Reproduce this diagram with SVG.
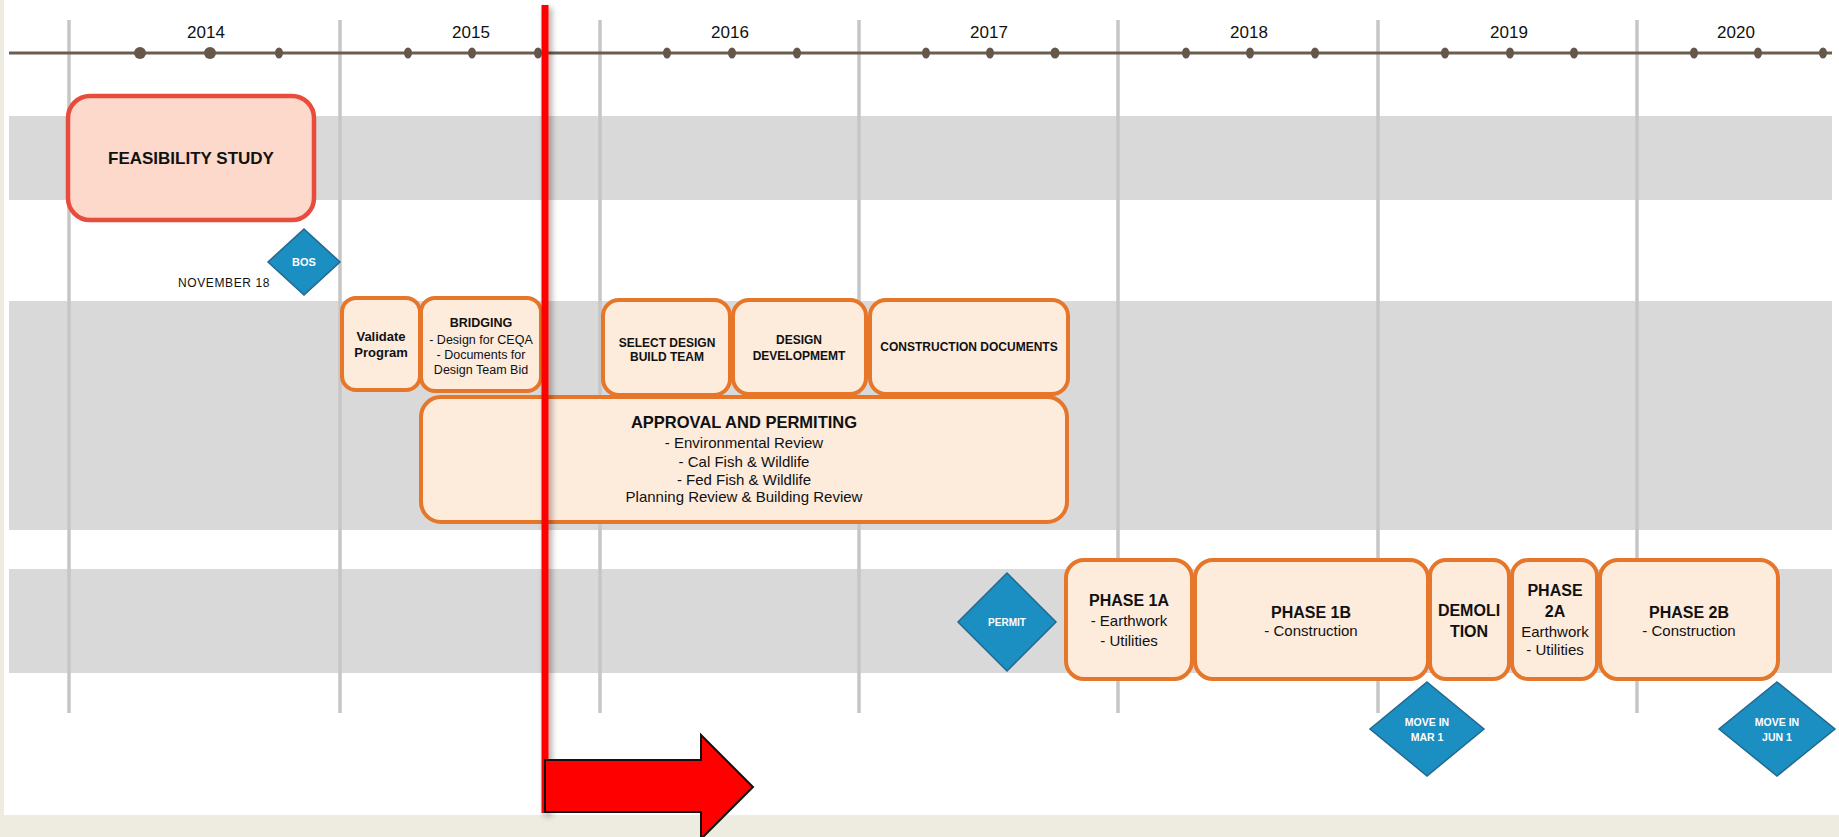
<svg xmlns="http://www.w3.org/2000/svg" width="1839" height="837" viewBox="0 0 1839 837">
<defs>
<style>
.t{font-family:"Liberation Sans",Arial,sans-serif;fill:#111;text-anchor:middle}
.b{font-weight:bold}
.yr{font-size:17px}
.band{fill:#d9d9d9}
.yl{stroke:#c6c6c6;stroke-width:3.5}
.dot{fill:#65574a}
.ob{fill:#fdebdc;stroke:#e5762a;stroke-width:4}
.dia{fill:#1b8ec2;stroke:#24688f;stroke-width:1.5}
.dt{font-family:"Liberation Sans",Arial,sans-serif;fill:#fff;font-weight:bold;text-anchor:middle}
</style>
<filter id="sh" x="-50%" y="-5%" width="300%" height="110%">
<feDropShadow dx="3" dy="3" stdDeviation="3" flood-color="#000" flood-opacity="0.35"/>
</filter>
</defs>
<rect x="0" y="0" width="1839" height="837" fill="#eeebe0"/>
<rect x="4" y="0" width="1835" height="815" fill="#ffffff"/>
<g id="bands">
<rect class="band" x="9" y="116" width="1823" height="84"/>
<rect class="band" x="9" y="301" width="1823" height="229"/>
<rect class="band" x="9" y="569" width="1823" height="104"/>
</g>
<g id="year-lines">
<line class="yl" x1="69" y1="20" x2="69" y2="713"/>
<line class="yl" x1="340" y1="20" x2="340" y2="713"/>
<line class="yl" x1="600" y1="20" x2="600" y2="713"/>
<line class="yl" x1="859" y1="20" x2="859" y2="713"/>
<line class="yl" x1="1118" y1="20" x2="1118" y2="713"/>
<line class="yl" x1="1378" y1="20" x2="1378" y2="713"/>
<line class="yl" x1="1637" y1="20" x2="1637" y2="713"/>
</g>
<g id="axis">
<line x1="9" y1="53" x2="1832" y2="53" stroke="#6b5e50" stroke-width="3"/>
<circle class="dot" cx="140" cy="53" r="6"/>
<circle class="dot" cx="210" cy="53" r="6"/>
<ellipse class="dot" cx="279" cy="53" rx="4" ry="5.5"/>
<ellipse class="dot" cx="408" cy="53" rx="4" ry="5.5"/>
<ellipse class="dot" cx="472" cy="53" rx="4" ry="5.5"/>
<ellipse class="dot" cx="538" cy="53" rx="4" ry="5.5"/>
<ellipse class="dot" cx="667" cy="53" rx="4" ry="5.5"/>
<ellipse class="dot" cx="732" cy="53" rx="4" ry="5.5"/>
<ellipse class="dot" cx="797" cy="53" rx="4" ry="5.5"/>
<ellipse class="dot" cx="926" cy="53" rx="4" ry="5.5"/>
<ellipse class="dot" cx="990" cy="53" rx="4" ry="5.5"/>
<ellipse class="dot" cx="1055" cy="53" rx="4.5" ry="5.5"/>
<ellipse class="dot" cx="1186" cy="53" rx="4" ry="5.5"/>
<ellipse class="dot" cx="1250" cy="53" rx="4" ry="5.5"/>
<ellipse class="dot" cx="1315" cy="53" rx="4" ry="5.5"/>
<ellipse class="dot" cx="1445" cy="53" rx="4" ry="5.5"/>
<ellipse class="dot" cx="1510" cy="53" rx="4" ry="5.5"/>
<ellipse class="dot" cx="1574" cy="53" rx="4" ry="5.5"/>
<ellipse class="dot" cx="1694" cy="53" rx="4" ry="5.5"/>
<ellipse class="dot" cx="1758" cy="53" rx="4" ry="5.5"/>
<ellipse class="dot" cx="1823" cy="53" rx="4" ry="5.5"/>
<text class="t yr" x="206" y="38">2014</text>
<text class="t yr" x="471" y="38">2015</text>
<text class="t yr" x="730" y="38">2016</text>
<text class="t yr" x="989" y="38">2017</text>
<text class="t yr" x="1249" y="38">2018</text>
<text class="t yr" x="1509" y="38">2019</text>
<text class="t yr" x="1736" y="38">2020</text>
</g>
<g id="feasibility">
<rect x="68" y="96" width="246" height="124" rx="22" fill="#fcd9cb" stroke="#e84c3d" stroke-width="4.5"/>
<text class="t b" x="191" y="164" font-size="17">FEASIBILITY STUDY</text>
</g>
<g id="bos">
<polygon class="dia" points="304,229 340,262 304,295 268,262"/>
<text class="dt" x="304" y="266" font-size="11">BOS</text>
<text class="t" x="270" y="287" font-size="12" letter-spacing="0.6" style="text-anchor:end">NOVEMBER 18</text>
</g>
<g id="validate">
<rect class="ob" x="342" y="298" width="78" height="92" rx="14"/>
<text class="t b" x="381" y="341" font-size="13">Validate</text>
<text class="t b" x="381" y="357" font-size="13">Program</text>
</g>
<g id="bridging">
<rect class="ob" x="421" y="298" width="120" height="93" rx="14"/>
<text class="t b" x="481" y="327" font-size="12.5">BRIDGING</text>
<text class="t" x="481" y="344" font-size="12.5">- Design for CEQA</text>
<text class="t" x="481" y="359" font-size="12.5">- Documents for</text>
<text class="t" x="481" y="374" font-size="12.5">Design Team Bid</text>
</g>
<g id="select">
<rect class="ob" x="603" y="300" width="127" height="95" rx="16"/>
<text class="t b" x="667" y="347" font-size="12">SELECT DESIGN</text>
<text class="t b" x="667" y="361" font-size="12">BUILD TEAM</text>
</g>
<g id="design-dev">
<rect class="ob" x="733" y="300" width="133" height="94" rx="16"/>
<text class="t b" x="799" y="344" font-size="12">DESIGN</text>
<text class="t b" x="799" y="360" font-size="12">DEVELOPMEMT</text>
</g>
<g id="construction-docs">
<rect class="ob" x="870" y="300" width="198" height="94" rx="16"/>
<text class="t b" x="969" y="351" font-size="12">CONSTRUCTION DOCUMENTS</text>
</g>
<g id="approval">
<rect class="ob" x="421" y="397" width="646" height="125" rx="20"/>
<text class="t b" x="744" y="428" font-size="16.5">APPROVAL AND PERMITING</text>
<text class="t" x="744" y="448" font-size="15">- Environmental Review</text>
<text class="t" x="744" y="467" font-size="15">- Cal Fish &amp; Wildlife</text>
<text class="t" x="744" y="485" font-size="15">- Fed Fish &amp; Wildlife</text>
<text class="t" x="744" y="502" font-size="15">Planning Review &amp; Building Review</text>
</g>
<g id="permit">
<polygon class="dia" points="1007,573 1056,622 1007,671 958,622"/>
<text class="dt" x="1007" y="626" font-size="10">PERMIT</text>
</g>
<g id="phase1a">
<rect class="ob" x="1066" y="560" width="126" height="119" rx="18"/>
<text class="t b" x="1129" y="606" font-size="16">PHASE 1A</text>
<text class="t" x="1129" y="626" font-size="15">- Earthwork</text>
<text class="t" x="1129" y="646" font-size="15">- Utilities</text>
</g>
<g id="phase1b">
<rect class="ob" x="1195" y="560" width="233" height="119" rx="18"/>
<text class="t b" x="1311" y="618" font-size="16">PHASE 1B</text>
<text class="t" x="1311" y="636" font-size="15">- Construction</text>
</g>
<g id="demolition">
<rect class="ob" x="1430" y="560" width="79" height="119" rx="16"/>
<text class="t b" x="1469" y="616" font-size="16">DEMOLI</text>
<text class="t b" x="1469" y="637" font-size="16">TION</text>
</g>
<g id="phase2a">
<rect class="ob" x="1512" y="560" width="85" height="119" rx="16"/>
<text class="t b" x="1555" y="596" font-size="16">PHASE</text>
<text class="t b" x="1555" y="617" font-size="16">2A</text>
<text class="t" x="1555" y="637" font-size="15">Earthwork</text>
<text class="t" x="1555" y="655" font-size="15">- Utilities</text>
</g>
<g id="phase2b">
<rect class="ob" x="1600" y="560" width="178" height="119" rx="18"/>
<text class="t b" x="1689" y="618" font-size="16">PHASE 2B</text>
<text class="t" x="1689" y="636" font-size="15">- Construction</text>
</g>
<g id="move-in-mar">
<polygon class="dia" points="1427,682 1484,729 1427,776 1370,729"/>
<text class="dt" x="1427" y="726" font-size="10.5">MOVE IN</text>
<text class="dt" x="1427" y="741" font-size="10.5">MAR 1</text>
</g>
<g id="move-in-jun">
<polygon class="dia" points="1777,682 1835,729 1777,776 1719,729"/>
<text class="dt" x="1777" y="726" font-size="10.5">MOVE IN</text>
<text class="dt" x="1777" y="741" font-size="10.5">JUN 1</text>
</g>
<g id="connectors">
<rect x="541.5" y="5" width="7" height="808" fill="#ff0000" filter="url(#sh)"/>
<polygon points="545,760 701,760 701,735 753,787 701,839 701,812 545,812" fill="#ff0000" stroke="#111" stroke-width="2"/>
</g>
</svg>
